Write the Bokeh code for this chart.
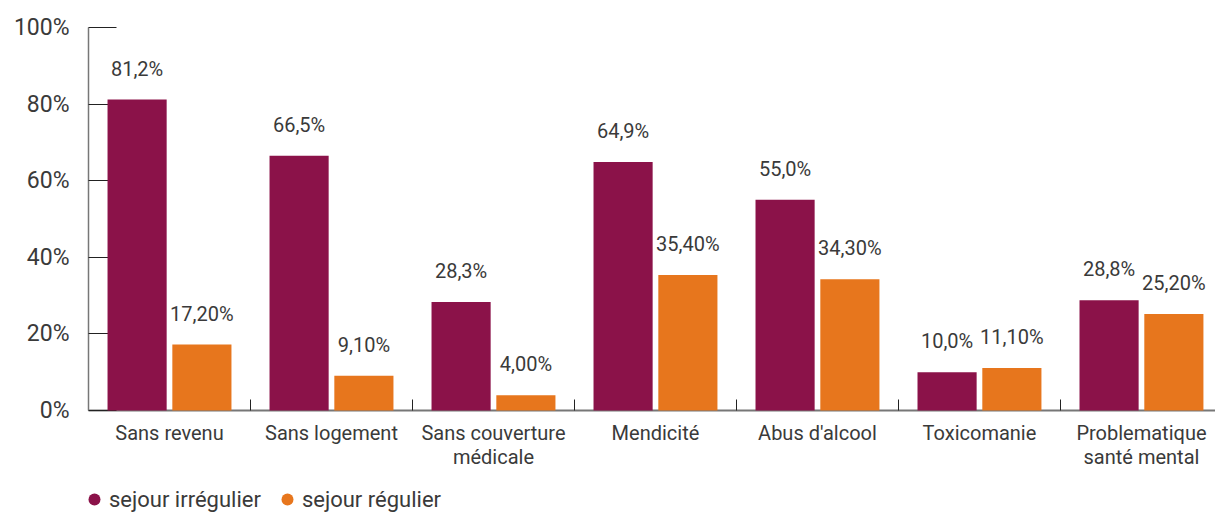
from bokeh.plotting import figure
from bokeh.layouts import column
from bokeh.models import (Range1d, FixedTicker, CustomJSTickFormatter, ColumnDataSource,
                          Legend, LegendItem, PrintfTickFormatter)
from bokeh.transform import dodge
from bokeh.core.properties import value
from bokeh.embed import file_html
from bokeh.resources import INLINE

categories = ["Sans revenu", "Sans logement", "Sans couverture\nmédicale", "Mendicité",
              "Abus d'alcool", "Toxicomanie", "Problematique\nsanté mental"]
series_names = ["sejour irrégulier", "sejour régulier"]
irregulier = [81.2, 66.5, 28.3, 64.9, 55.0, 10.0, 28.8]
regulier = [17.2, 9.1, 4.0, 35.4, 34.3, 11.1, 25.2]
y_ticks = [0, 20, 40, 60, 80, 100]

MAROON = "#8B1249"
ORANGE = "#E7761D"
TEXT = "#3a3a3a"
FONT = "Roboto"


def fmt(v, d):
    return f"{v:.{d}f}%".replace(".", ",")


pos = [i + 0.5 for i in range(len(categories))]
src = ColumnDataSource(dict(
    x=pos, irr=irregulier, reg=regulier,
    irr_lbl=[fmt(v, 1) for v in irregulier],
    reg_lbl=[fmt(v, 2) for v in regulier],
))

p = figure(width=1215, height=478, x_range=Range1d(0, 6.957), y_range=Range1d(0, 100),
           output_backend="svg", toolbar_location=None,
           min_border_left=88, min_border_right=0, min_border_top=27, min_border_bottom=68,
           outline_line_color=None, background_fill_color="white", border_fill_color="white")
p.grid.visible = False

p.vbar(x=dodge("x", -0.2), top="irr", width=0.365, source=src,
       fill_color=MAROON, line_color=None, level="annotation")
p.vbar(x=dodge("x", 0.2), top="reg", width=0.365, source=src,
       fill_color=ORANGE, line_color=None, level="annotation")
p.text(x=dodge("x", -0.2), y="irr", text="irr_lbl", y_offset=-31, source=src,
       text_align="center", text_baseline="middle", text_font=value(FONT),
       text_font_size="20px", text_color=TEXT)
p.text(x=dodge("x", 0.2), y="reg", text="reg_lbl", y_offset=-31, source=src,
       text_align="center", text_baseline="middle", text_font=value(FONT),
       text_font_size="20px", text_color=TEXT)

ya = p.yaxis[0]
ya.ticker = FixedTicker(ticks=y_ticks)
ya.formatter = PrintfTickFormatter(format="%d%%")
ya.major_tick_in = 28
ya.major_tick_out = 0
ya.minor_tick_line_color = None
ya.major_tick_line_color = "#222222"
ya.axis_line_color = "#777777"
ya.axis_line_width = 1.5
ya.major_label_standoff = 19
ya.major_label_text_font = FONT
ya.major_label_text_font_size = "23px"
ya.major_label_text_color = TEXT

xa = p.xaxis[0]
xa.ticker = FixedTicker(ticks=pos, minor_ticks=[1, 2, 3, 4, 5, 6])
xa.formatter = CustomJSTickFormatter(args=dict(labels=categories),
                                     code="return labels[Math.floor(tick)]")
xa.major_tick_line_color = None
xa.major_tick_in = 0
xa.major_tick_out = 0
xa.minor_tick_in = 11
xa.minor_tick_out = 0
xa.minor_tick_line_color = "#222222"
xa.axis_line_color = "#777777"
xa.axis_line_width = 2
xa.major_label_standoff = 10
xa.major_label_text_font = FONT
xa.major_label_text_font_size = "20px"
xa.major_label_text_color = TEXT
xa.major_label_text_line_height = 1.0

# legend strip below the chart (legend-only renderers are hidden)
lg = figure(width=1215, height=39, x_range=Range1d(0, 7), y_range=Range1d(0, 100),
            output_backend="svg", toolbar_location=None,
            x_axis_location=None, y_axis_location=None,
            min_border=0, outline_line_color=None,
            background_fill_color="white", border_fill_color="white")
lg.grid.visible = False
r1 = lg.scatter(x=pos, y=irregulier, marker="circle", fill_color=MAROON, line_color=None,
                visible=False)
r2 = lg.scatter(x=pos, y=regulier, marker="circle", fill_color=ORANGE, line_color=None,
                visible=False)
legend = Legend(items=[LegendItem(label=series_names[0], renderers=[r1]),
                       LegendItem(label=series_names[1], renderers=[r2])],
                location=(-9, 3), orientation="horizontal",
                glyph_width=30, glyph_height=30, label_standoff=-3, spacing=11,
                padding=0, margin=0, border_line_color=None, background_fill_alpha=0,
                inactive_fill_alpha=0,
                label_text_font=FONT, label_text_font_size="22px", label_text_color=TEXT)
lg.add_layout(legend)

layout = column(p, lg, spacing=0)
open("out.html", "w").write(file_html(layout, INLINE))
